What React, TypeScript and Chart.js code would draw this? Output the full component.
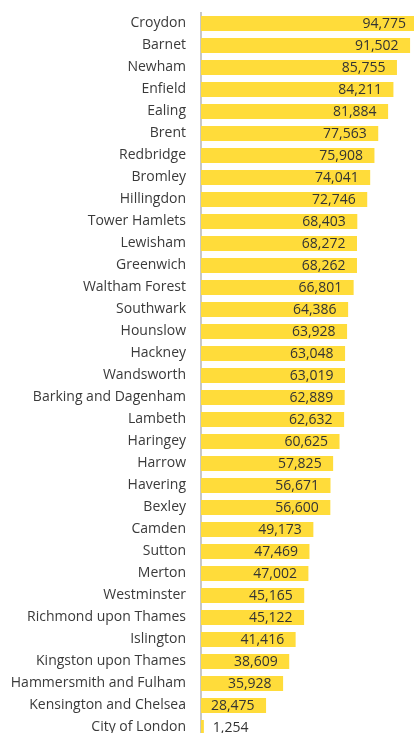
import React, { useEffect, useRef } from "react";
import { Chart, registerables } from "chart.js";

Chart.register(...registerables);

const boroughs: string[] = [
  "Croydon", "Barnet", "Newham", "Enfield", "Ealing", "Brent", "Redbridge", "Bromley",
  "Hillingdon", "Tower Hamlets", "Lewisham", "Greenwich", "Waltham Forest", "Southwark",
  "Hounslow", "Hackney", "Wandsworth", "Barking and Dagenham", "Lambeth", "Haringey",
  "Harrow", "Havering", "Bexley", "Camden", "Sutton", "Merton", "Westminster",
  "Richmond upon Thames", "Islington", "Kingston upon Thames", "Hammersmith and Fulham",
  "Kensington and Chelsea", "City of London",
];

const values: number[] = [
  94775, 91502, 85755, 84211, 81884, 77563, 75908, 74041,
  72746, 68403, 68272, 68262, 66801, 64386,
  63928, 63048, 63019, 62889, 62632, 60625,
  57825, 56671, 56600, 49173, 47469, 47002, 45165,
  45122, 41416, 38609, 35928,
  28475, 1254,
];

const FONT = "'Open Sans'";
const TEXT = "#3a3a3a";

const valueLabels = {
  id: "valueLabels",
  afterDatasetsDraw(chart: any) {
    const ctx = chart.ctx;
    const meta = chart.getDatasetMeta(0);
    ctx.save();
    ctx.font = `14px ${FONT}`;
    ctx.fillStyle = "#333333";
    ctx.textBaseline = "middle";
    meta.data.forEach((bar: any, i: number) => {
      const txt = values[i].toLocaleString("en-US");
      const w = ctx.measureText(txt).width;
      const left = bar.base;
      if (bar.x - left > w + 20) {
        ctx.textAlign = "right";
        ctx.fillText(txt, bar.x - 11.5, bar.y + 1);
      } else {
        ctx.textAlign = "left";
        ctx.fillText(txt, bar.x + 9, bar.y + 1);
      }
    });
    ctx.restore();
  },
};

export default function App() {
  const ref = useRef<HTMLCanvasElement | null>(null);
  useEffect(() => {
    if (!ref.current) return;
    const chart = new Chart(ref.current, {
      type: "bar",
      data: {
        labels: boroughs,
        datasets: [
          {
            data: values,
            backgroundColor: "#FFDC3A",
            borderWidth: 0,
            barPercentage: 0.68,
            categoryPercentage: 1,
          },
        ],
      },
      options: {
        indexAxis: "y",
        animation: false,
        responsive: false,
        maintainAspectRatio: false,
        layout: { padding: { top: 12.5, bottom: 6.5, left: 0, right: 2.5 } },
        plugins: { legend: { display: false }, tooltip: { enabled: false } },
        scales: {
          x: { display: false, min: 0, max: 100000 },
          y: {
            grid: { display: false, drawTicks: false },
            border: { display: true, color: "#c8c8c8", width: 2 },
            ticks: {
              padding: 15,
              color: TEXT,
              font: { family: FONT, size: 14 },
            },
            afterFit(scale: any) {
              scale.width = 201;
              scale.paddingTop = 0;
              scale.paddingBottom = 0;
            },
          },
        },
      },
      plugins: [valueLabels],
    });
    return () => chart.destroy();
  }, []);
  return (
    <div style={{ position: "fixed", top: 0, left: 0, width: 432, height: 745, background: "#fff" }}>
      <canvas ref={ref} width={432} height={745} style={{ width: 432, height: 745, display: "block" }} />
    </div>
  );
}
